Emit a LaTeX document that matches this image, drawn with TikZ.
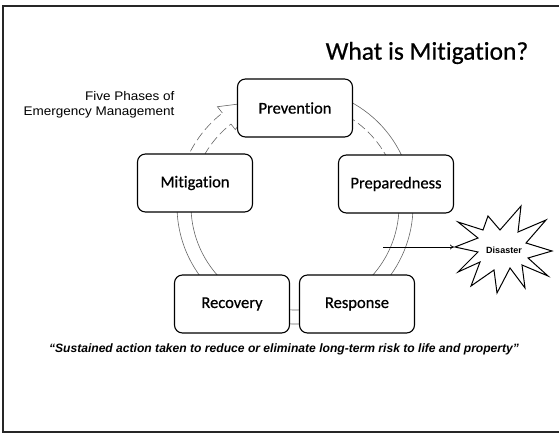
\documentclass[tikz,border=0pt]{standalone}
\usepackage{fontspec}
\newfontfamily\boxfont[Ligatures=NoCommon,FakeBold=0.6]{Carlito}
\newfontfamily\arialfont{Liberation Sans}
\newfontfamily\fivefont[FakeStretch=1.08]{Liberation Sans}
\usetikzlibrary{arrows.meta,calc}
\begin{document}
\begin{tikzpicture}[x=1pt,y=-1pt,
  phase/.style={draw, line width=1.1pt, rounded corners=8pt, fill=white,
    minimum width=115pt, minimum height=58pt, inner sep=0pt,
    font=\boxfont\fontsize{16.5}{19}\selectfont},
  ringline/.style={draw=black!60, line width=0.6pt},
  ringdash/.style={ringline, dash pattern=on 9pt off 4pt},
  frameline/.style={draw=black!85, line width=1.6pt},
  starline/.style={draw, line width=1pt, line join=miter, fill=white}]
\useasboundingbox (0,0) rectangle (559,434);
% slide frame
\draw[frameline] (559,6) -- (3,6) -- (3,432) -- (559,432);
% title
\node (title) at (427,53) {\boxfont\fontsize{25.5}{30}\selectfont What is Mitigation?};
% caption
\node[align=right, anchor=east, font=\fivefont\fontsize{12.5}{14.5}\selectfont] (five) at (178,105)
  {Five Phases of\\Emergency Management};
% cycle ring
\coordinate (c) at (295,206);
\draw[ringline] (c) ++(-110:118) arc[start angle=-110, end angle=195, radius=118];
\draw[ringline] (c) ++(-30:104) arc[start angle=-30, end angle=195, radius=104];
\draw[ringdash] (c) ++(-110:104) arc[start angle=-110, end angle=-30, radius=104];
\draw[ringdash] (c) ++(195:118) arc[start angle=195, end angle=232, radius=118];
\draw[ringdash] (c) ++(195:104) arc[start angle=195, end angle=232, radius=104];
\draw[ringline] ($(c)+(232:118)$) -- ($(c)+(232:126)$) -- ($(c)+(250:111)$) -- ($(c)+(232:97)$) -- ($(c)+(232:104)$);
% phases
\node[phase] (prev) at (295,108) {Prevention};
\node[phase] (mit)  at (195,183) {Mitigation};
\node[phase] (prep) at (396,184) {Preparedness};
\node[phase] (rec)  at (232,304) {Recovery};
\node[phase] (resp) at (357,304) {Response};
% disaster star
\draw[starline] (455,247) -- (478,238) -- (458,222) -- (483,230) -- (488,216) -- (500,230)
  -- (521,206) -- (518,232) -- (546,220) -- (526,243) -- (552,251) -- (528,258)
  -- (548,276) -- (522,265) -- (525,288) -- (510,268) -- (497,293) -- (494,270)
  -- (471,286) -- (480,262) -- (458,272) -- (478,252) -- cycle;
\coordinate (dl) at (454,247);
\node[font=\arialfont\bfseries\fontsize{9}{10}\selectfont] (dis) at (504,250) {Disaster};
\coordinate (ds) at (383,247);
\draw[line width=0.7pt, -{To[length=4pt,width=5pt]}] (ds) -- (dl);
% quote
\node[font=\arialfont\bfseries\itshape\fontsize{12.1}{14}\selectfont] (quote) at (284,349)
  {“Sustained action taken to reduce or eliminate long-term risk to life and property”};
\end{tikzpicture}
\end{document}
